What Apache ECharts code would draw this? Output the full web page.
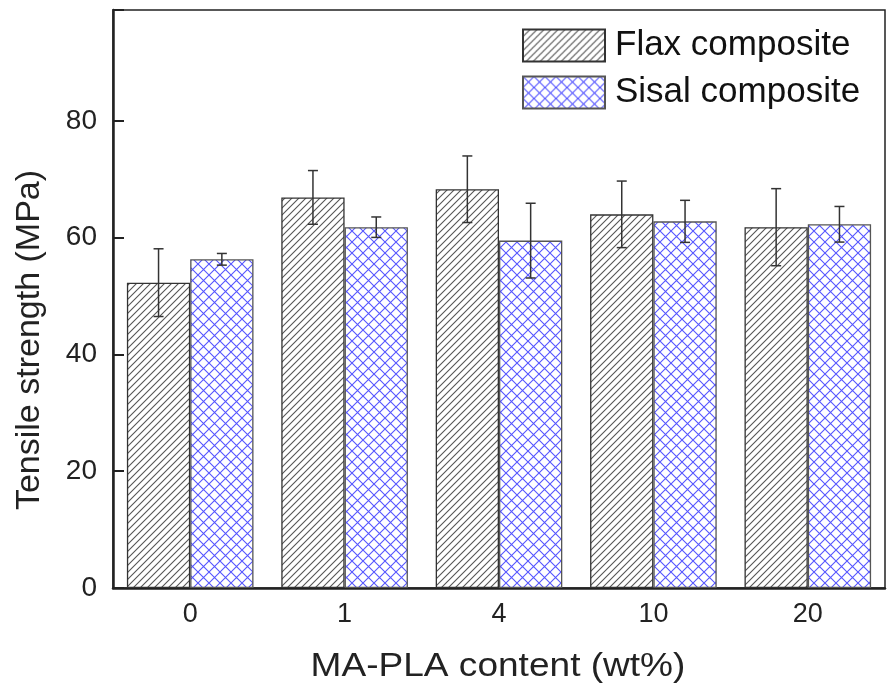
<!DOCTYPE html>
<html>
<head>
<meta charset="utf-8">
<script src="https://cdn.jsdelivr.net/npm/echarts@6/dist/echarts.min.js"></script>
<style>
  html, body { margin: 0; padding: 0; background: #ffffff; }
  #chart { width: 888px; height: 695px; }
</style>
</head>
<body>
<div id="chart"></div>
<script>
// ---- data ----
const categories = ['0', '1', '4', '10', '20'];
const flaxValues = [52.3, 66.9, 68.3, 64.0, 61.8];
const flaxErrors = [5.8, 4.6, 5.7, 5.7, 6.6];
const sisalValues = [56.3, 61.8, 59.5, 62.8, 62.3];
const sisalErrors = [1.0, 1.75, 6.4, 3.6, 3.05];
const seriesNames = ['Flax composite', 'Sisal composite'];
const yMin = 0, yMax = 99, yInterval = 20;
const xTitle = 'MA-PLA content (wt%)';
const yTitle = 'Tensile strength (MPa)';

const FONT = 'Liberation Sans, Arial, sans-serif';
const CAT_GAP = 0.18;

function makeHatch() {
  const s = 7;
  const c = document.createElement('canvas');
  c.width = s; c.height = s;
  const ctx = c.getContext('2d');
  ctx.fillStyle = '#ffffff';
  ctx.fillRect(0, 0, s, s);
  ctx.strokeStyle = '#555555';
  ctx.lineWidth = 1.1;
  ctx.beginPath();
  ctx.moveTo(-1, s + 1); ctx.lineTo(s + 1, -1);
  ctx.moveTo(-1, 1); ctx.lineTo(1, -1);
  ctx.moveTo(s - 1, s + 1); ctx.lineTo(s + 1, s - 1);
  ctx.stroke();
  return c;
}
function makeCross() {
  const s = 11;
  const c = document.createElement('canvas');
  c.width = s; c.height = s;
  const ctx = c.getContext('2d');
  ctx.fillStyle = '#ffffff';
  ctx.fillRect(0, 0, s, s);
  ctx.strokeStyle = 'rgba(55,55,255,0.85)';
  ctx.lineWidth = 1.1;
  ctx.beginPath();
  ctx.moveTo(-1, -1); ctx.lineTo(s + 1, s + 1);
  ctx.moveTo(-1, s + 1); ctx.lineTo(s + 1, -1);
  ctx.stroke();
  return c;
}

const hatch = { image: makeHatch(), repeat: 'repeat' };
const cross = { image: makeCross(), repeat: 'repeat' };

function errData(vals, errs) {
  return vals.map((v, i) => [i, v, errs[i]]);
}
function errRenderer(side) {
  return function (params, api) {
    const i = api.value(0), v = api.value(1), e = api.value(2);
    const band = api.size([1, 0])[0];
    const barW = band * (1 - CAT_GAP) / 2;
    const top = api.coord([i, v + e]);
    const bot = api.coord([i, v - e]);
    const x = top[0] + side * barW / 2;
    const cap = 5;
    const style = { stroke: '#333', lineWidth: 1.5 };
    return {
      type: 'group',
      children: [
        { type: 'line', shape: { x1: x, y1: top[1], x2: x, y2: bot[1] }, style: style },
        { type: 'line', shape: { x1: x - cap, y1: top[1], x2: x + cap, y2: top[1] }, style: style },
        { type: 'line', shape: { x1: x - cap, y1: bot[1], x2: x + cap, y2: bot[1] }, style: style }
      ]
    };
  };
}

const chart = echarts.init(document.getElementById('chart'), null, { renderer: 'canvas' });
chart.setOption({
  animation: false,
  backgroundColor: '#ffffff',
  grid: {
    left: 113, right: 3, top: 10, bottom: 107,
    show: true, borderColor: '#222', borderWidth: 1.5, backgroundColor: '#ffffff'
  },
  legend: {
    orient: 'vertical',
    left: 522, top: 28,
    padding: 0,
    itemGap: 12,
    itemWidth: 82, itemHeight: 32,
    icon: 'rect',
    selectedMode: false,
    data: seriesNames,
    textStyle: { fontSize: 35, fontFamily: FONT, color: '#111', lineHeight: 32, padding: [0, 0, 0, 5] }
  },
  xAxis: {
    type: 'category',
    data: categories,
    axisLine: { lineStyle: { color: '#222', width: 2.5 } },
    axisTick: { show: false },
    axisLabel: { fontSize: 27, fontFamily: FONT, color: '#222', margin: 13 }
  },
  yAxis: {
    type: 'value',
    min: yMin, max: yMax, interval: yInterval,
    axisLine: { show: true, lineStyle: { color: '#222', width: 2.5 } },
    axisTick: { show: true, inside: true, length: 11, lineStyle: { color: '#222', width: 2 } },
    splitLine: { show: false },
    axisLabel: {
      fontSize: 28, fontFamily: FONT, color: '#222', margin: 16,
      formatter: function (v) { return v % yInterval === 0 ? String(v) : ''; }
    }
  },
  graphic: [{
    type: 'text',
    x: 30, y: 340,
    rotation: Math.PI / 2,
    style: {
      text: yTitle,
      fontSize: 34, fontFamily: FONT, fill: '#222',
      align: 'center', verticalAlign: 'middle'
    }
  }, {
    type: 'text',
    x: 498, y: 667,
    scaleX: 1.09,
    style: {
      text: xTitle,
      fontSize: 34, fontFamily: FONT, fill: '#222',
      align: 'center', verticalAlign: 'middle'
    }
  }],
  series: [
    {
      name: seriesNames[0], type: 'bar', data: flaxValues,
      barGap: '0%', barCategoryGap: (CAT_GAP * 100) + '%',
      itemStyle: { color: hatch, borderColor: '#333', borderWidth: 1.3 }
    },
    {
      name: seriesNames[1], type: 'bar', data: sisalValues,
      barGap: '0%', barCategoryGap: (CAT_GAP * 100) + '%',
      itemStyle: { color: cross, borderColor: '#555', borderWidth: 1.3 }
    },
    {
      type: 'custom', data: errData(flaxValues, flaxErrors),
      renderItem: errRenderer(-1), z: 5, silent: true
    },
    {
      type: 'custom', data: errData(sisalValues, sisalErrors),
      renderItem: errRenderer(1), z: 5, silent: true
    }
  ]
});
</script>
</body>
</html>
